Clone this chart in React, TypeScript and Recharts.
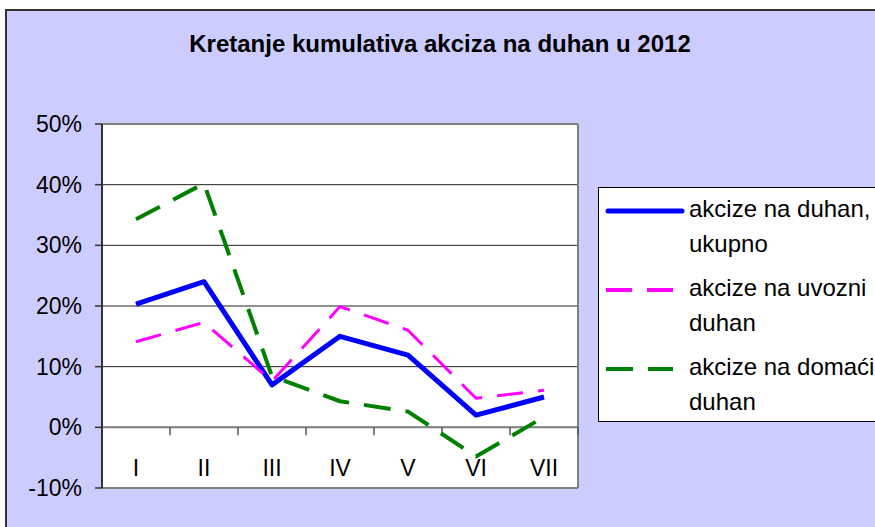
import React from 'react';
import { LineChart, Line, XAxis, YAxis, CartesianGrid, ReferenceLine, Legend } from 'recharts';

const categories = ['I', 'II', 'III', 'IV', 'V', 'VI', 'VII'];
const ukupno = [20.3, 24.0, 7.0, 15.0, 11.9, 2.0, 5.0];
const uvozni = [14.1, 17.3, 7.6, 19.9, 16.0, 4.8, 6.1];
const domaci = [34.3, 40.2, 8.4, 4.3, 2.6, -4.8, 1.7];
const yTicks = [-10, 0, 10, 20, 30, 40, 50];
const seriesKeys = ['ukupno', 'uvozni', 'domaci'];
const seriesNames = ['akcize na duhan, ukupno', 'akcize na uvozni duhan', 'akcize na domaći duhan'];
const titleText = 'Kretanje kumulativa akciza na duhan u 2012';

const FONT = '"Liberation Sans", Arial, sans-serif';

const seriesStyle: Record<string, { color: string; width: number; dash?: string }> = {
  ukupno: { color: '#0000FF', width: 5 },
  uvozni: { color: '#FF00FF', width: 3, dash: '26 15' },
  domaci: { color: '#008000', width: 4, dash: '27 15' },
};

const data = categories.map((c, i) => ({
  pos: i + 0.5,
  cat: c,
  ukupno: ukupno[i],
  uvozni: uvozni[i],
  domaci: domaci[i],
}));
const xTicks = categories.map((_, i) => i + 0.5);
const boundaries = categories.map((_, i) => i + 1);

const renderLegend = (props: any) => {
  const payload = [...(props.payload || [])].sort(
    (a: any, b: any) => seriesKeys.indexOf(a.dataKey) - seriesKeys.indexOf(b.dataKey)
  );
  return (
    <div
      style={{
        width: 300,
        height: 235,
        background: '#fff',
        border: '1px solid #000',
        boxSizing: 'border-box',
        paddingTop: 3,
        fontFamily: FONT,
        fontSize: 24,
        color: '#000',
      }}
    >
      {payload.map((e: any, i: number) => {
        const st = seriesStyle[e.dataKey] || { color: e.color, width: 4 };
        return (
          <div key={i} style={{ display: 'flex', height: 79, alignItems: 'flex-start' }}>
            <svg width={90} height={35} style={{ flex: 'none', display: 'block' }}>
              <line
                x1={st.dash ? 7 : 9}
                x2={st.dash ? 74 : 83}
                y1={20}
                y2={20}
                stroke={st.color}
                strokeWidth={st.dash ? 4 : 5}
                strokeDasharray={st.dash}
                strokeLinecap={st.dash ? 'butt' : 'round'}
              />
            </svg>
            <div style={{ width: 200, lineHeight: '35px' }}>{e.value}</div>
          </div>
        );
      })}
    </div>
  );
};

export default function App() {
  return (
    <div
      style={{
        position: 'fixed',
        left: 0,
        top: 0,
        width: 875,
        height: 527,
        overflow: 'hidden',
        background: '#fff',
      }}
    >
      <div
        style={{
          position: 'absolute',
          left: 5,
          top: 9,
          width: 920,
          height: 560,
          background: '#CCCCFF',
          borderTop: '2px solid #333',
          borderLeft: '2px solid #333',
        }}
      />
      <div
        style={{
          position: 'absolute',
          left: 0,
          top: 32,
          width: 880,
          textAlign: 'center',
          fontFamily: FONT,
          fontWeight: 'bold',
          fontSize: 24,
          lineHeight: '24px',
          color: '#000',
        }}
      >
        {titleText}
      </div>
      <div style={{ position: 'absolute', left: 0, top: 0 }}>
        <LineChart
          width={875}
          height={527}
          data={data}
          margin={{ top: 124, right: 297, bottom: 39, left: 12 }}
        >
          <CartesianGrid vertical={false} stroke="#222" fill="#fff" fillOpacity={1} />
          <XAxis
            dataKey="pos"
            type="number"
            domain={[0, 7]}
            ticks={xTicks}
            interval={0}
            tickFormatter={(v: number) => categories[Math.floor(v)]}
            axisLine={false}
            tickLine={false}
            mirror
            tickSize={0}
            tickMargin={12}
            height={30}
            tick={{ fill: '#000', fontSize: 23, fontFamily: FONT }}
          />
          <YAxis
            type="number"
            domain={[-10, 50]}
            ticks={yTicks}
            interval={0}
            width={90}
            tickFormatter={(v: number) => `${v}%`}
            axisLine={{ stroke: '#333', strokeWidth: 2 }}
            tickLine={{ stroke: '#333', strokeWidth: 1.5 }}
            tickSize={7}
            tickMargin={13}
            tick={{ fill: '#000', fontSize: 23, fontFamily: FONT }}
          />
          <ReferenceLine y={50} stroke="#808080" strokeWidth={2} />
          <ReferenceLine y={0} stroke="#808080" strokeWidth={2} />
          <ReferenceLine y={-10} stroke="#808080" strokeWidth={2} />
          <ReferenceLine x={7} stroke="#808080" strokeWidth={2} />
          {boundaries.map((b) => (
            <ReferenceLine
              key={b}
              segment={[{ x: b, y: 0 }, { x: b, y: -1.3 }]}
              stroke="#555"
              strokeWidth={1.5}
            />
          ))}
          {seriesKeys.map((k, i) => (
            <Line
              key={k}
              type="linear"
              dataKey={k}
              name={seriesNames[i]}
              stroke={seriesStyle[k].color}
              strokeWidth={seriesStyle[k].width}
              strokeDasharray={seriesStyle[k].dash}
              strokeLinejoin="round"
              dot={false}
              activeDot={false}
              isAnimationActive={false}
            />
          ))}
          <Legend
            layout="vertical"
            align="center"
            verticalAlign="middle"
            width={300}
            height={235}
            wrapperStyle={{ left: 598, top: 187 }}
            content={renderLegend}
          />
        </LineChart>
      </div>
    </div>
  );
}
